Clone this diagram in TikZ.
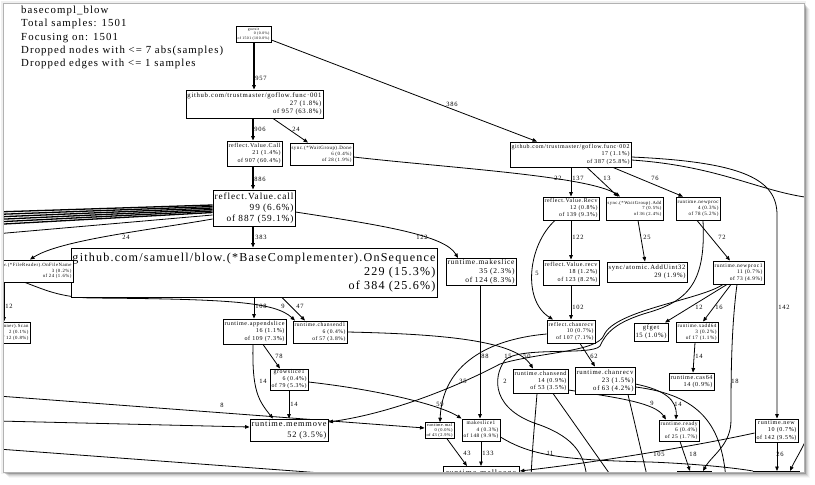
\documentclass[tikz,border=0pt]{standalone}
\usepackage{fontspec}
\setmainfont{Liberation Serif}[LetterSpace=10]
\usepackage{graphicx}
\usetikzlibrary{arrows.meta}
\pgfdeclarelayer{pagebg}
\pgfdeclarelayer{edges}
\pgfsetlayers{pagebg,edges,main}
\tikzset{
 nbox/.style={draw=black, line width=0.9pt, inner sep=0pt, fill=white},
 e/.style={line width=0.8pt, -{Triangle[length=4.5pt,width=3.6pt]}},
 eh/.style={e, line width=1.3pt},
 en/.style={line width=0.8pt},
 bund/.style={line width=1.3pt},
 lbl/.style={inner sep=0pt, font=\fontsize{6.5}{7}\selectfont},
}
\newcommand{\pp}[8][1]{%
 \node[nbox, minimum width={(#5)-(#3)}, minimum height={(#6)-(#4)}] (#2) at ({((#3)+(#5))/2},{((#4)+(#6))/2})
 {\resizebox{\dimexpr #5pt-(#3pt)-3pt\relax}{!}{\fontsize{10}{12}\selectfont\renewcommand\arraystretch{#1}\begin{tabular}{@{}r@{}}\multicolumn{1}{@{}c@{}}{#7}\\#8\end{tabular}}};}
\begin{document}
\begin{tikzpicture}[x=1pt,y=-1pt]
\useasboundingbox (0,0) rectangle (815,485);
\begin{pgfonlayer}{pagebg}
\fill[white] (0,0) rectangle (815,485);
\fill[black,opacity=0.06] (1,1) rectangle (806,474);
\foreach \d/\o in {1/0.2,2/0.15,3/0.1,4/0.07,5/0.05,6/0.03}{\fill[black,opacity=\o] (3+\d,3+\d) rectangle (804+\d,472+\d);}
\fill[white] (3,3) rectangle (804,472);
\end{pgfonlayer}
\begin{scope}
\clip (3,3) rectangle (804,472);
\node[anchor=base west, inner sep=0pt] (title) at (21,13.5) {\resizebox{202pt}{!}{\fontsize{10}{12.3}\selectfont\begin{tabular}[t]{@{}l@{}}basecompl\_blow\\Total samples: 1501\\Focusing on: 1501\\Dropped nodes with <= 7 abs(samples)\\Dropped edges with <= 1 samples\end{tabular}}};
% nodes
\pp{goexit}{236}{26}{271}{42}{goexit}{0 (0.0\%)\\of 1501 (100.0\%)}
\pp{func1}{186}{90}{323}{118}{github.com/trustmaster/goflow.func·001}{27 (1.8\%)\\of 957 (63.8\%)}
\pp{vCall}{227}{141}{282}{166}{reflect.Value.Call}{21 (1.4\%)\\of 907 (60.4\%)}
\pp{wgDone}{290}{143}{353}{165}{sync.(*WaitGroup).Done}{6 (0.4\%)\\of 28 (1.9\%)}
\pp{vcall}{213}{190}{295}{226}{reflect.Value.call}{99 (6.6\%)\\of 887 (59.1\%)}
\pp{func2}{510}{142}{631}{167}{github.com/trustmaster/goflow.func·002}{17 (1.1\%)\\of 387 (25.8\%)}
\pp[0.95]{onseq}{71}{248}{437}{297}{github.com/samuell/blow.(*BaseComplementer).OnSequence}{229 (15.3\%)\\of 384 (25.6\%)}
\pp{fread}{-55}{260}{73}{282}{github.com/samuell/blow.(*FileReader).OnFileName}{3 (0.2\%)\\of 24 (1.6\%)}
\pp{scan}{-25}{322}{30}{343}{bufio.(*Scanner).Scan}{2 (0.1\%)\\of 12 (0.8\%)}
\pp{mkslice}{446}{260}{516}{284}{runtime.makeslice}{35 (2.3\%)\\of 124 (8.3\%)}
\pp{vRecv}{543}{197}{599}{220}{reflect.Value.Recv}{12 (0.8\%)\\of 139 (9.3\%)}
\pp{wgAdd}{606}{197}{663}{220}{sync.(*WaitGroup).Add}{7 (0.5\%)\\of 36 (2.4\%)}
\pp{newproc}{676}{197}{720}{220}{runtime.newproc}{4 (0.3\%)\\of 78 (5.2\%)}
\pp{vrecv}{543}{260}{599}{285}{reflect.Value.recv}{18 (1.2\%)\\of 123 (8.2\%)}
\pp{adduint}{607}{262}{687}{282}{sync/atomic.AddUint32}{29 (1.9\%)}
\pp{newproc1}{713}{261}{764}{284}{runtime.newproc1}{11 (0.7\%)\\of 73 (4.9\%)}
\pp{append}{223}{319}{286}{344}{runtime.appendslice}{16 (1.1\%)\\of 109 (7.3\%)}
\pp{csend1}{293}{321}{347}{343}{runtime.chansend1}{6 (0.4\%)\\of 57 (3.8\%)}
\pp{rcrecv}{547}{320}{595}{343}{reflect.chanrecv}{10 (0.7\%)\\of 107 (7.1\%)}
\pp{gfget}{634}{323}{668}{341}{gfget}{15 (1.0\%)}
\pp{xadd}{676}{322}{718}{342}{runtime.xadd64}{3 (0.2\%)\\of 17 (1.1\%)}
\pp{grow}{270}{370}{308}{389}{growslice1}{6 (0.4\%)\\of 79 (5.3\%)}
\pp{csend}{513}{369}{568}{393}{runtime.chansend}{14 (0.9\%)\\of 53 (3.5\%)}
\pp{crecv}{575}{367}{635}{394}{runtime.chanrecv}{23 (1.5\%)\\of 63 (4.2\%)}
\pp{cas}{669}{373}{714}{390}{runtime.cas64}{14 (0.9\%)}
\pp{memmove}{250}{419}{328}{441}{runtime.memmove}{52 (3.5\%)}
\pp{mal}{425}{423}{454}{438}{runtime.mal}{0 (0.0\%)\\of 43 (2.9\%)}
\pp{mks1}{462}{419}{500}{441}{makeslice1}{4 (0.3\%)\\of 148 (9.9\%)}
\pp{ready}{659}{420}{699}{441}{runtime.ready}{6 (0.4\%)\\of 25 (1.7\%)}
\pp{rnew}{755}{419}{798}{442}{runtime.new}{10 (0.7\%)\\of 142 (9.5\%)}
\node[nbox, minimum width=76pt, minimum height=30pt, anchor=north west] (malloc) at (443,466) {};
\node[inner sep=0pt, anchor=north] (malloct) at (481,469.5) {\resizebox{70pt}{!}{\fontsize{10}{12}\selectfont runtime.mallocgc}};
\node[nbox, minimum width=34pt, minimum height=20pt, anchor=north west] (botA) at (677,471) {};
\node[nbox, minimum width=46pt, minimum height=20pt, anchor=north west] (botB) at (753,471) {};
% free ends
\coordinate (bl1) at (-5,212); \coordinate (bl2) at (-5,214.5); \coordinate (bl3) at (-5,217);
\coordinate (bl4) at (-5,219.5); \coordinate (bl5) at (-5,222); \coordinate (bl6) at (-5,224.5);
\coordinate (bl7) at (-5,234);
\coordinate (offR) at (812,198); \coordinate (offR2) at (812,425);
\coordinate (bot2) at (587,480);
\coordinate (b1) at (531,480); \coordinate (b2) at (614,480); \coordinate (b3) at (648,480); \coordinate (b4) at (726,480);
\coordinate (lA) at (-2,396); \coordinate (lB) at (-2,421); \coordinate (lC) at (-2,449); \coordinate (bC) at (335,474);
\end{scope}
\begin{pgfonlayer}{edges}
\begin{scope}
\clip (3,3) rectangle (804,472);
\draw[eh] (goexit.south -| 254,0) -- (func1.north -| 254,0) node[lbl,at={(261,78)}] (l1) {957};
\draw[e] (goexit.east |- 0,40) -- (func2.north -| 537,0) node[lbl,at={(452,104)}] (l2) {386};
\draw[eh] (func1.south -| 253,0) -- (vCall.north -| 253,0) node[lbl,at={(260,129)}] (l3) {906};
\draw[e] (func1.south -| 273,0) -- (wgDone.north -| 308,0) node[lbl,at={(296,129)}] (l4) {24};
\draw[eh] (vCall.south -| 253,0) -- (vcall.north -| 253,0) node[lbl,at={(260,179)}] (l5) {886};
\draw[e] (wgDone.east |- 0,157) .. controls (450,168) and (590,176) .. (wgAdd.north -| 620,0) node[lbl,at={(558,178)}] (l6) {22};
\draw[e] (func2.south -| 571,0) -- (vRecv.north -| 571,0) node[lbl,at={(578,178)}] (l7) {137};
\draw[e] (func2.south -| 587,0) -- (wgAdd.north -| 618,0) node[lbl,at={(607,178)}] (l8) {13};
\draw[e] (func2.south -| 613,0) -- (newproc.north -| 683,0) node[lbl,at={(655,178)}] (l9) {76};
\draw[eh] (vcall.south -| 253,0) -- (onseq.north -| 253,0) node[lbl,at={(261,237)}] (l10) {383};
\draw[e] (vcall.west |- 0,219) .. controls (150,230) and (60,240) .. (fread.north -| 30,0) node[lbl,at={(126,237)}] (l11) {24};
\draw[e] (vcall.east |- 0,212) .. controls (380,225) and (445,235) .. (mkslice.north -| 458,0) node[lbl,at={(422,237)}] (l12) {122};
\foreach \i/\sy in {1/205,2/206.5,3/208,4/209.5,5/211,6/212.5}{\draw[bund] (vcall.west |- 0,\sy) -- (bl\i);}
\draw[en] (vcall.west |- 0,215) -- (bl7);
\draw[e] (vRecv.south -| 571,0) -- (vrecv.north -| 571,0) node[lbl,at={(578,237)}] (l13) {122};
\draw[e] (wgAdd.south -| 638,0) -- (adduint.north -| 645,0) node[lbl,at={(647,237)}] (l14) {25};
\draw[e] (newproc.south -| 697,0) -- (newproc1.north -| 730,0) node[lbl,at={(722,237)}] (l15) {72};
\draw[e] (func2.east |- 0,157) .. controls (745,162) and (777,180) .. (777,215) -- (rnew.north -| 777,0) node[lbl,at={(784,307)}] (l16) {142};
\draw[en] (func2.east |- 0,160) .. controls (720,166) and (760,192) .. (offR);
\draw[e] (vRecv.south -| 555,0) .. controls (528,245) and (522,300) .. (rcrecv.north -| 553,0) node[lbl,at={(537,273)}] (l17) {5};
\draw[e] (vrecv.south -| 571,0) -- (rcrecv.north -| 571,0) node[lbl,at={(578,307)}] (l18) {102};
\draw[e] (rcrecv.south -| 580,0) -- (crecv.north -| 595,0) node[lbl,at={(594,356)}] (l19) {62};
\draw[e] (fread.south -| 25,0) .. controls (45,290) and (60,297) .. (90,298) .. controls (230,299) and (275,302) .. (csend1.north -| 295,0) node[lbl,at={(283,306)}] (l20) {9};
\draw[e] (fread.south -| 4,0) -- (scan.north -| 4,0) node[lbl,at={(9,306)}] (l21) {12};
\draw[e] (onseq.south -| 254,0) -- (append.north -| 254,0) node[lbl,at={(261,306)}] (l22) {108};
\draw[e] (onseq.south -| 282,0) -- (csend1.north -| 305,0) node[lbl,at={(300,306)}] (l23) {47};
\draw[e] (mkslice.south -| 480,0) -- (mks1.north -| 480,0) node[lbl,at={(485,356)}] (l24) {88};
\draw[e] (csend1.east |- 0,332) .. controls (440,334) and (515,340) .. (csend.north -| 533,0) node[lbl,at={(527,356)}] (l25) {50};
\draw[e] (append.south -| 263,0) -- (grow.north -| 280,0) node[lbl,at={(279,356)}] (l26) {78};
\draw[e] (append.south -| 253,0) .. controls (252,390) and (258,400) .. (memmove.north -| 273,0) node[lbl,at={(263,381)}] (l27) {14};
\draw[e] (grow.south -| 289,0) -- (memmove.north -| 289,0) node[lbl,at={(294,404)}] (l28) {14};
\draw[e] (grow.east |- 0,382) .. controls (380,390) and (440,405) .. (mks1.north west);
\draw[e] (rcrecv.west |- 0,334) .. controls (480,340) and (442,370) .. (mal.north -| 440,0) node[lbl,at={(463,381)}] (l29) {35};
\draw[e] (newproc1.south -| 723,0) .. controls (700,300) and (615,310) .. (604,335) .. controls (598,352) and (540,352) .. (500,364) .. controls (470,380) and (400,412) .. (memmove.east |- 0,422) node[lbl,at={(440,404)}] (l30) {59} node[lbl,at={(508,356)}] (l31) {15};
\draw[en] (newproc.south -| 703,0) .. controls (706,280) and (690,300) .. (650,312) .. controls (615,322) and (606,333) .. (600,346) .. controls (592,356) and (520,346) .. (505,360) .. controls (492,378) and (492,410) .. (540,425) .. controls (575,438) and (585,455) .. (bot2) node[lbl,at={(505,381)}] (l32) {2};
\draw[e] (newproc1.south -| 727,0) -- (gfget.north -| 665,0) node[lbl,at={(699,307)}] (l33) {12};
\draw[e] (newproc1.south -| 731,0) -- (xadd.north -| 703,0) node[lbl,at={(719,307)}] (l34) {16};
\draw[e] (xadd.south -| 695,0) -- (cas.north -| 693,0) node[lbl,at={(699,356)}] (l35) {14};
\draw[e] (newproc1.south -| 737,0) .. controls (731,330) and (731,380) .. (731,420) .. controls (731,445) and (712,455) .. (botA.north -| 703,0) node[lbl,at={(735,381)}] (l36) {18};
\draw[e] (csend.east |- 0,390) .. controls (620,398) and (655,403) .. (ready.north -| 666,0) node[lbl,at={(652,403)}] (l37) {9};
\draw[e] (crecv.east |- 0,384) .. controls (665,390) and (677,400) .. (ready.north -| 676,0) node[lbl,at={(678,404)}] (l38) {14};
\draw[e] (ready.south -| 680,0) -- (botA.north -| 690,0) node[lbl,at={(693,454)}] (l39) {18};
\draw[e] (rnew.south -| 777,0) -- (botB.north -| 777,0) node[lbl,at={(780,454)}] (l40) {26};
\draw[e] (offR2) .. controls (805,445) and (795,460) .. (botB.north -| 790,0);
\draw[e] (rnew.west |- 0,433) .. controls (700,445) and (600,462) .. (malloc.east |- 0,471) node[lbl,at={(659,454)}] (l41) {105};
\draw[en] (mks1.east |- 0,437) .. controls (530,455) and (560,460) .. (650,462) .. controls (700,464) and (735,468) .. (botB.north west) node[lbl,at={(550,453)}] (l42) {11};
\draw[e] (mal.south -| 447,0) -- (malloc.north -| 467,0) node[lbl,at={(467,453)}] (l43) {43};
\draw[e] (mks1.south -| 481,0) -- (malloc.north -| 481,0) node[lbl,at={(488,453)}] (l44) {133};
\draw[en] (csend.south -| 537,0) .. controls (535,420) and (532,450) .. (b1);
\draw[en] (csend.south -| 553,0) -- (b2);
\draw[en] (crecv.south -| 628,0) -- (b3);
\draw[en] (crecv.east |- 0,387) .. controls (700,395) and (722,425) .. (b4);
\draw[e] (lA) -- (mal.west |- 0,428) node[lbl,at={(222,405)}] (l45) {8};
\draw[e] (lB) -- (memmove.west |- 0,427);
\draw[en] (lC) -- (bC);
\end{scope}
\end{pgfonlayer}
\draw[gray!60, line width=0.4pt] (3,3) rectangle (804,472);
\end{tikzpicture}
\end{document}
